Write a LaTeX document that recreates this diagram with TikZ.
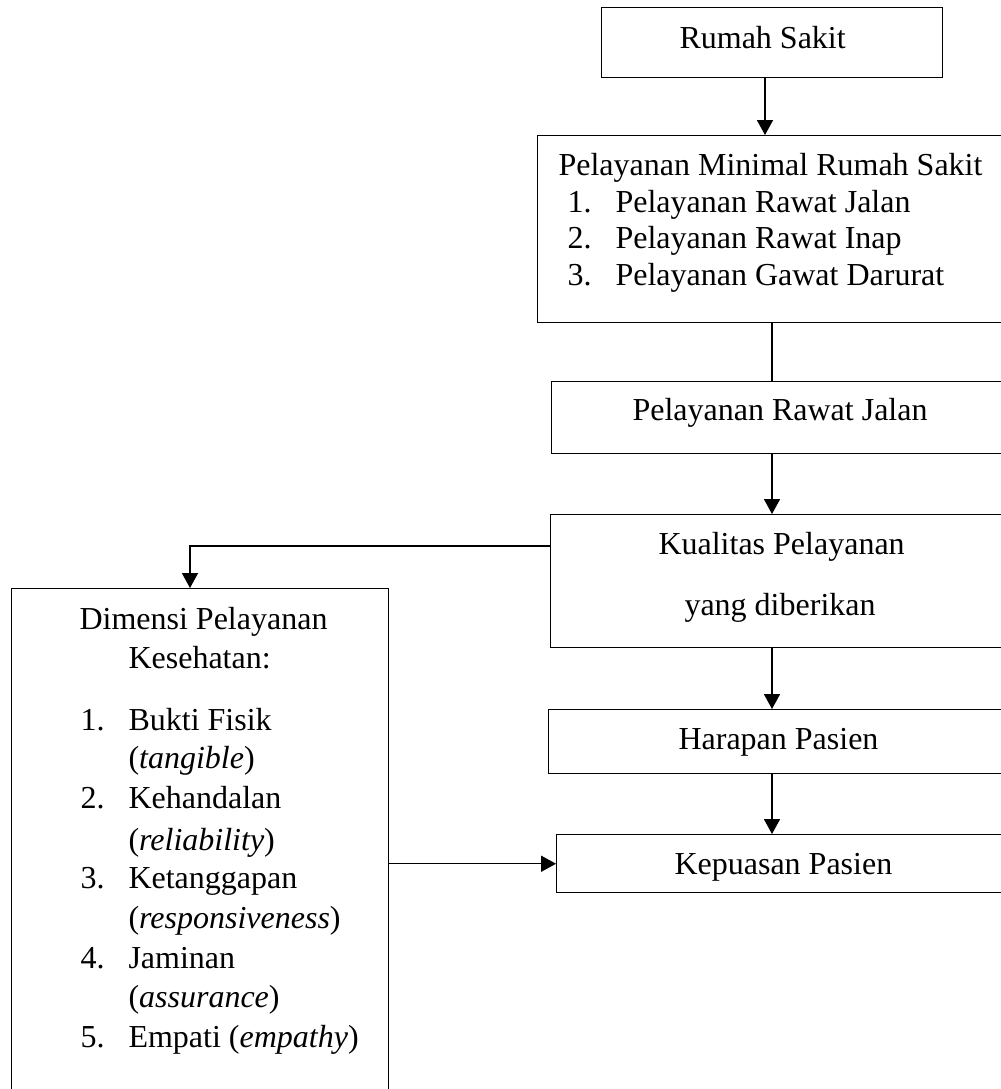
\documentclass[tikz,border=0pt]{standalone}
\usepackage{fontspec}
\setmainfont{Liberation Serif}
\usetikzlibrary{arrows.meta}
\begin{document}
\begin{tikzpicture}[x=0.375pt,y=-0.375pt,
  box/.style={draw, line width=0.55pt, rectangle, inner sep=0pt, anchor=north west},
  arr/.style={-{Triangle[length=5.6pt,width=6pt]}, line width=0.55pt},
  ln/.style={line width=0.55pt},
  txt/.style={inner sep=0pt, anchor=base west, font=\fontsize{12pt}{14pt}\selectfont},
]
\useasboundingbox (0,0) rectangle (1001,1089);
\clip (0,0) rectangle (1001,1089);
\fill[white] (0,0) rectangle (1001,1089);

% boxes
\node[box, minimum width=341*0.375pt, minimum height=70*0.375pt] (rs) at (601,7) {};
\node[box, minimum width=471*0.375pt, minimum height=187*0.375pt] (min) at (537,135) {};
\node[box, minimum width=457*0.375pt, minimum height=72*0.375pt] (rj) at (551,381) {};
\node[box, minimum width=458*0.375pt, minimum height=133*0.375pt] (kual) at (550,514) {};
\node[box, minimum width=460*0.375pt, minimum height=64*0.375pt] (har) at (548,709) {};
\node[box, minimum width=452*0.375pt, minimum height=58*0.375pt] (kep) at (556,834) {};
\node[box, minimum width=377*0.375pt, minimum height=512*0.375pt] (dim) at (11,588) {};

% texts
\node[txt] (trs) at (679,48) {Rumah Sakit};
\node[txt] (tmin) at (558,175) {Pelayanan Minimal Rumah Sakit};
\node[txt] (tmin1n) at (567,212) {1.};
\node[txt] (tmin1) at (615,212) {Pelayanan Rawat Jalan};
\node[txt] (tmin2n) at (567,248) {2.};
\node[txt] (tmin2) at (615,248) {Pelayanan Rawat Inap};
\node[txt] (tmin3n) at (567,285) {3.};
\node[txt] (tmin3) at (615,285) {Pelayanan Gawat Darurat};
\node[txt] (trj) at (632,420) {Pelayanan Rawat Jalan};
\node[txt] (tkual1) at (658,554) {Kualitas Pelayanan};
\node[txt] (tkual2) at (684,615) {yang diberikan};
\node[txt] (thar) at (678,749) {Harapan Pasien};
\node[txt] (tkep) at (674,874) {Kepuasan Pasien};

\node[txt] (tdim1) at (79,629) {Dimensi Pelayanan};
\node[txt] (tdim2) at (128,668) {Kesehatan:};
\node[txt] (d1n) at (80,730) {1.};
\node[txt] (d1a) at (128,730) {Bukti Fisik};
\node[txt] (d1b) at (128,768) {(\textit{tangible})};
\node[txt] (d2n) at (80,808) {2.};
\node[txt] (d2a) at (128,808) {Kehandalan};
\node[txt] (d2b) at (128,850) {(\textit{reliability})};
\node[txt] (d3n) at (80,888) {3.};
\node[txt] (d3a) at (128,888) {Ketanggapan};
\node[txt] (d3b) at (128,928) {(\textit{responsiveness})};
\node[txt] (d4n) at (80,968) {4.};
\node[txt] (d4a) at (128,968) {Jaminan};
\node[txt] (d4b) at (128,1007) {(\textit{assurance})};
\node[txt] (d5n) at (80,1047) {5.};
\node[txt] (d5a) at (128,1047) {Empati (\textit{empathy})};

% connectors
\draw[arr] (rs.south -| 765,0) -- (min.north -| 765,0);
\draw[ln] (min.south -| 772,0) -- (rj.north -| 772,0);
\draw[arr] (rj.south -| 772,0) -- (kual.north -| 772,0);
\draw[arr] (kual.south -| 772,0) -- (har.north -| 772,0);
\draw[arr] (har.south -| 772,0) -- (kep.north -| 772,0);
\coordinate (corner) at (190,546);
\draw[arr] (kual.west |- corner) -- (corner) -- (dim.north -| corner);
\draw[arr] (dim.east |- kep.west) -- (kep.west);
\end{tikzpicture}
\end{document}
